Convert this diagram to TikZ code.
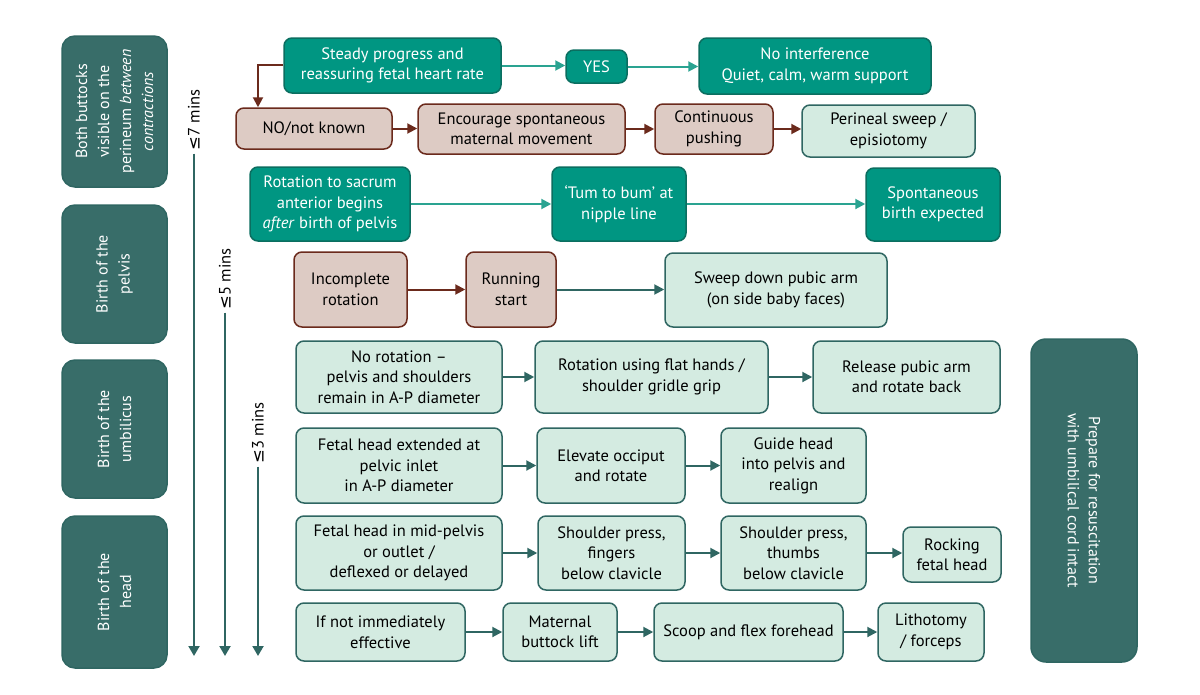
\documentclass[tikz,border=0pt]{standalone}
\usepackage{fontspec}
\setmainfont{PT Sans}
\newfontfamily\symfont{DejaVu Sans}
\usetikzlibrary{arrows.meta,calc}
\definecolor{phase}{HTML}{386D69}
\definecolor{bright}{HTML}{009682}
\definecolor{brightedge}{HTML}{0B6E60}
\definecolor{brightline}{HTML}{2AA391}
\definecolor{mint}{HTML}{D4EBE1}
\definecolor{minted}{HTML}{2F6662}
\definecolor{tanfill}{HTML}{DDCBC4}
\definecolor{brownline}{HTML}{6B2A1C}
\definecolor{darkline}{HTML}{2F6662}
\newcommand{\mybox}[6]{\node[#1, minimum width={(#4)-(#3)}, minimum height={(#6)-(#5)}] (#2) at ({((#3)+(#4))/2},{((#5)+(#6))/2})}
\newcommand{\myrotbox}[6]{\node[#1, minimum width={(#6)-(#5)}, minimum height={(#4)-(#3)}] (#2) at ({((#3)+(#4))/2},{((#5)+(#6))/2})}
\tikzset{
  base/.style={rounded corners=8pt, line width=1.5pt, align=center, inner sep=1pt,
    font=\fontsize{16.5}{20.5}\selectfont},
  greenbox/.style={base, fill=bright, draw=brightedge, text=white},
  tanbox/.style={base, fill=tanfill, draw=brownline, text=black},
  mintbox/.style={base, fill=mint, draw=minted, text=black},
  phasebox/.style={base, rounded corners=13pt, fill=phase, draw=minted, text=white, rotate=90,
    font=\fontsize{16}{22}\selectfont},
  prepbox/.style={base, rounded corners=15pt, fill=phase, draw=minted, text=white, rotate=-90,
    font=\fontsize{16}{21}\selectfont},
  timelabel/.style={rotate=90, inner sep=3pt, font=\fontsize{16.5}{20}\selectfont, text=black},
  tip/.style={-{Triangle[length=10pt,width=10pt]}},
  garr/.style={tip, line width=2pt, draw=brightline},
  barr/.style={tip, line width=2pt, draw=brownline},
  darr/.style={tip, line width=2pt, draw=darkline},
  vline/.style={-{Triangle[length=10pt,width=11pt]}, line width=2pt, draw=darkline},
}
\begin{document}
\begin{tikzpicture}[x=1pt,y=-1pt]
\useasboundingbox (0,0) rectangle (1200,694);
\fill[white] (0,0) rectangle (1200,694);

% phase boxes
\myrotbox{phasebox}{p1}{62}{167}{36}{187}{Both buttocks\\visible on the\\perineum \textit{between}\\\textit{contractions}};
\myrotbox{phasebox}{p2}{62}{167}{205}{343}{Birth of the\\pelvis};
\myrotbox{phasebox}{p3}{62}{167}{360}{498}{Birth of the\\umbilicus};
\myrotbox{phasebox}{p4}{62}{167}{516}{668}{Birth of the\\head};

% time arrows
\node[timelabel] (t7) at (194,120) {{\symfont ≤}7 mins};
\node[timelabel] (t5) at (225,279) {{\symfont ≤}5 mins};
\node[timelabel] (t3) at (258,433) {{\symfont ≤}3 mins};
\coordinate (e7) at (194,656);
\coordinate (e5) at (225,656);
\coordinate (e3) at (258,656);
\draw[vline] (t7.west) -- (e7);
\draw[vline] (t5.west) -- (e5);
\draw[vline] (t3.west) -- (e3);

% row 1
\mybox{greenbox}{s1}{284}{501}{38}{93}{Steady progress and\\reassuring fetal heart rate};
\mybox{greenbox}{yes}{566}{627}{50}{83}{YES};
\mybox{greenbox}{noint}{699}{931}{38}{94}{No interference\\Quiet, calm, warm support};
% row 2
\mybox{tanbox}{no}{236}{392}{108}{149}{NO/not known};
\mybox{tanbox}{enc}{418}{625}{104}{154}{Encourage spontaneous\\maternal movement};
\mybox{tanbox}{cont}{655}{773}{104}{154}{Continuous\\pushing};
\mybox{mintbox}{per}{802}{975}{105}{157}{Perineal sweep /\\episiotomy};
% row 3
\mybox{greenbox}{rot}{250}{410}{167}{241}{Rotation to sacrum\\anterior begins\\\textit{after} birth of pelvis};
\mybox{greenbox}{tum}{552}{686}{167}{241}{‘Tum to bum’ at\\nipple line};
\mybox{greenbox}{spont}{866}{1000}{168}{241}{Spontaneous\\birth expected};
% row 4
\mybox{tanbox}{inc}{294}{407}{252}{327}{Incomplete\\rotation};
\mybox{tanbox}{run}{466}{556}{252}{327}{Running\\start};
\mybox{mintbox}{sweep}{665}{887}{253}{327}{Sweep down pubic arm\\(on side baby faces)};
% row 5
\mybox{mintbox}{norot}{296}{502}{341}{413}{No rotation –\\pelvis and shoulders\\remain in A-P diameter};
\mybox{mintbox}{flat}{535}{768}{341}{413}{Rotation using flat hands /\\shoulder gridle grip};
\mybox{mintbox}{rel}{813}{1000}{341}{413}{Release pubic arm\\and rotate back};
% row 6
\mybox{mintbox}{ext}{296}{502}{428}{503}{Fetal head extended at\\pelvic inlet\\in A-P diameter};
\mybox{mintbox}{elev}{537}{685}{428}{503}{Elevate occiput\\and rotate};
\mybox{mintbox}{guide}{721}{866}{428}{503}{Guide head\\into pelvis and\\realign};
% row 7
\mybox{mintbox}{mid}{296}{502}{516}{590}{Fetal head in mid-pelvis\\or outlet /\\deflexed or delayed};
\mybox{mintbox}{spf}{538}{685}{516}{590}{Shoulder press,\\fingers\\below clavicle};
\mybox{mintbox}{spt}{721}{866}{516}{590}{Shoulder press,\\thumbs\\below clavicle};
\mybox{mintbox}{rock}{903}{1001}{527}{582}{Rocking\\fetal head};
% row 8
\mybox{mintbox}{ifnot}{296}{465}{603}{661}{If not immediately\\effective};
\mybox{mintbox}{lift}{503}{617}{603}{661}{Maternal\\buttock lift};
\mybox{mintbox}{scoop}{654}{843}{603}{661}{Scoop and flex forehead};
\mybox{mintbox}{lith}{878}{984}{603}{661}{Lithotomy\\/ forceps};
% right box
\myrotbox{prepbox}{prep}{1031}{1137}{339}{662}{Prepare for resuscitation\\with umbilical cord intact};

% arrows
\draw[garr] (s1.east) -- (s1.east -| yes.west);
\draw[garr] (yes.east) -- (yes.east -| noint.west);
\coordinate (c1) at (258,65);
\draw[barr, rounded corners=0pt] (s1.west |- c1) -- (c1) -- (c1 |- no.north);
\draw[barr] (no.east) -- (no.east -| enc.west);
\draw[barr] (enc.east) -- (enc.east -| cont.west);
\draw[barr] (cont.east) -- (cont.east -| per.west);
\draw[garr] (rot.east) -- (rot.east -| tum.west);
\draw[garr] (tum.east) -- (tum.east -| spont.west);
\draw[barr] (inc.east) -- (inc.east -| run.west);
\draw[darr] (run.east) -- (run.east -| sweep.west);
\draw[darr] (norot.east) -- (norot.east -| flat.west);
\draw[darr] (flat.east) -- (flat.east -| rel.west);
\draw[darr] (ext.east) -- (ext.east -| elev.west);
\draw[darr] (elev.east) -- (elev.east -| guide.west);
\draw[darr] (mid.east) -- (mid.east -| spf.west);
\draw[darr] (spf.east) -- (spf.east -| spt.west);
\draw[darr] (spt.east) -- (spt.east -| rock.west);
\draw[darr] (ifnot.east) -- (ifnot.east -| lift.west);
\draw[darr] (lift.east) -- (lift.east -| scoop.west);
\draw[darr] (scoop.east) -- (scoop.east -| lith.west);
\end{tikzpicture}
\end{document}
